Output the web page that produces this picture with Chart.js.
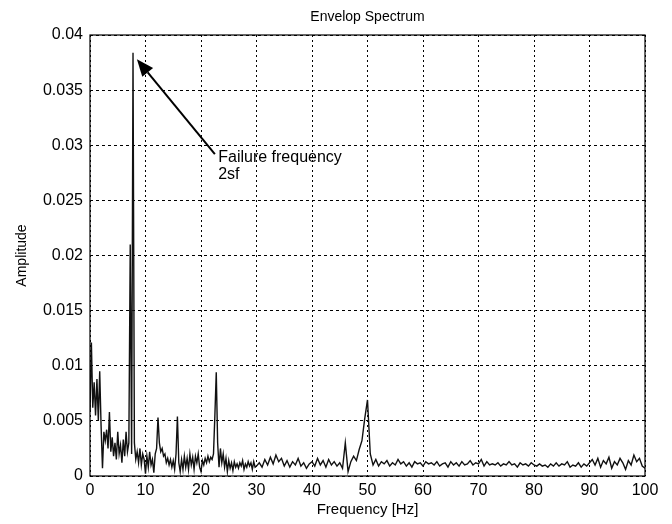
<!DOCTYPE html>
<html>
<head>
<meta charset="utf-8">
<script src="https://cdn.jsdelivr.net/npm/chart.js@4"></script>
<style>
  html, body { margin: 0; padding: 0; background: #fff; }
  #wrap { width: 672px; height: 524px; }
</style>
</head>
<body>
<div id="wrap"><canvas id="chart" width="672" height="524"></canvas></div>
<script>
// Envelope spectrum.
// 0..30 Hz sampled every 0.25 Hz, 30.5..100 Hz every 0.5 Hz.
const lowStart = 0, lowStep = 0.25;
const lowAmps = [
  0.0058, 0.0121, 0.0062, 0.0085, 0.0055, 0.0088, 0.0050, 0.0095,
  0.0045, 0.0007, 0.0040, 0.0032, 0.0042, 0.0025, 0.0058, 0.0022,
  0.0035, 0.0018, 0.0030, 0.0015, 0.0040, 0.0020, 0.0028, 0.0012,
  0.0033, 0.0018, 0.0040, 0.0022, 0.0030, 0.0210, 0.0020, 0.0384,
  0.0030, 0.0015, 0.0022, 0.0012, 0.0025, 0.0010, 0.0020, 0.0015,
  0.0002, 0.0018, 0.0008, 0.0022, 0.0010, 0.0015, 0.0003, 0.0020,
  0.0025, 0.0053, 0.0030, 0.0022, 0.0025, 0.0018, 0.0020, 0.0012,
  0.0016, 0.0010, 0.0015, 0.0008, 0.0014, 0.0006, 0.0020, 0.0054,
  0.0012, 0.0004, 0.0015, 0.0006, 0.0018, 0.0008, 0.0016, 0.0006,
  0.0020, 0.0010, 0.0017, 0.0006, 0.0018, 0.0012, 0.0020, 0.0008,
  0.0004, 0.0014, 0.0010, 0.0016, 0.0012, 0.0018, 0.0013, 0.0017,
  0.0015, 0.0020, 0.0055, 0.0094, 0.0030, 0.0008, 0.0025, 0.0012,
  0.0020, 0.0008, 0.0016, 0.0004, 0.0014, 0.0007, 0.0012, 0.0005,
  0.0013, 0.0008, 0.0011, 0.0007, 0.0012, 0.0009, 0.0014, 0.0006,
  0.0011, 0.0008, 0.0013, 0.0009, 0.0012, 0.0006, 0.0013, 0.0008,
  0.0009,
];
const highStart = 30.5, highStep = 0.5;
const highAmps = [
  0.0012, 0.0008, 0.0015, 0.0010, 0.0017, 0.0011, 0.0019, 0.0013, 0.0016, 0.0009,
  0.0014, 0.0008, 0.0013, 0.0010, 0.0016, 0.0009, 0.0012, 0.0007, 0.0011, 0.0013,
  0.0009, 0.0016, 0.0010, 0.0014, 0.0008, 0.0015, 0.0010, 0.0013, 0.0009, 0.0012,
  0.0007, 0.0030, 0.0004, 0.0013, 0.0018, 0.0014, 0.0024, 0.0032, 0.0052, 0.0069,
  0.0020, 0.0010, 0.0015, 0.0009, 0.0013, 0.0011, 0.0014, 0.0009, 0.0012, 0.0010,
  0.0015, 0.0011, 0.0013, 0.0009, 0.0012, 0.0008, 0.0013, 0.0011, 0.0012, 0.0009,
  0.0013, 0.0011, 0.0012, 0.0010, 0.0013, 0.0009, 0.0011, 0.0012, 0.0008, 0.0013,
  0.0010, 0.0012, 0.0009, 0.0013, 0.0010, 0.0011, 0.0014, 0.0010, 0.0012, 0.0011,
  0.0015, 0.0009, 0.0013, 0.0010, 0.0011, 0.0010, 0.0012, 0.0009, 0.0011, 0.0010,
  0.0013, 0.0010, 0.0011, 0.0008, 0.0012, 0.0010, 0.0011, 0.0009, 0.0012, 0.0010,
  0.0009, 0.0011, 0.0009, 0.0010, 0.0008, 0.0011, 0.0009, 0.0012, 0.0009, 0.0011,
  0.0010, 0.0013, 0.0008, 0.0010, 0.0009, 0.0012, 0.0008, 0.0011, 0.0009, 0.0012,
  0.0015, 0.0010, 0.0016, 0.0008, 0.0014, 0.0011, 0.0017, 0.0007, 0.0013, 0.0010,
  0.0016, 0.0012, 0.0006, 0.0014, 0.0010, 0.0019, 0.0013, 0.0016, 0.0009, 0.0007,
];

const xTicks = [0, 10, 20, 30, 40, 50, 60, 70, 80, 90, 100];
const yTicks = [0, 0.005, 0.01, 0.015, 0.02, 0.025, 0.03, 0.035, 0.04];

const chartTitle = "Envelop Spectrum";

// annotation, in data units
const noteText = ["Failure frequency", "2sf"];
const noteAt = { x: 23.1, y: 0.0289, lineGap: 0.00152 };
const arrowFrom = { x: 22.5, y: 0.0292 };
const arrowTo = { x: 8.45, y: 0.0378 };

const points = [
  ...lowAmps.map((a, i) => ({ x: lowStart + i * lowStep, y: a })),
  ...highAmps.map((a, i) => ({ x: highStart + i * highStep, y: a })),
];

const FONT = "'Liberation Sans', Arial, Helvetica, sans-serif";

// MATLAB-style box round the axes, title over the axes, plus the arrow and its label
const frameAndNote = {
  id: "frameAndNote",
  afterDraw(chart) {
    const { ctx, chartArea: a, scales: { x, y } } = chart;
    ctx.save();
    ctx.strokeStyle = "#000";
    ctx.lineWidth = 1.2;
    ctx.strokeRect(a.left, a.top, a.right - a.left, a.bottom - a.top);

    ctx.fillStyle = "#000";
    ctx.font = "14px " + FONT;
    ctx.textAlign = "center";
    ctx.textBaseline = "middle";
    ctx.fillText(chartTitle, (a.left + a.right) / 2, a.top - 18);

    const x1 = x.getPixelForValue(arrowFrom.x), y1 = y.getPixelForValue(arrowFrom.y);
    const x2 = x.getPixelForValue(arrowTo.x), y2 = y.getPixelForValue(arrowTo.y);
    const ang = Math.atan2(y2 - y1, x2 - x1);
    const headLen = 17, headW = 7;
    const bx = x2 - headLen * Math.cos(ang), by = y2 - headLen * Math.sin(ang);
    ctx.lineWidth = 2;
    ctx.beginPath();
    ctx.moveTo(x1, y1);
    ctx.lineTo(bx, by);
    ctx.stroke();
    ctx.beginPath();
    ctx.moveTo(x2, y2);
    ctx.lineTo(bx + headW * Math.sin(ang), by - headW * Math.cos(ang));
    ctx.lineTo(bx - headW * Math.sin(ang), by + headW * Math.cos(ang));
    ctx.closePath();
    ctx.fill();

    ctx.font = "16px " + FONT;
    ctx.textAlign = "left";
    const tx = x.getPixelForValue(noteAt.x);
    noteText.forEach((t, i) => {
      ctx.fillText(t, tx, y.getPixelForValue(noteAt.y - i * noteAt.lineGap));
    });
    ctx.restore();
  },
};

new Chart(document.getElementById("chart"), {
  type: "line",
  data: {
    datasets: [{
      data: points,
      borderColor: "#111",
      borderWidth: 1.4,
      pointRadius: 0,
      tension: 0,
      fill: false,
    }],
  },
  plugins: [frameAndNote],
  options: {
    responsive: false,
    animation: false,
    events: [],
    layout: { padding: { left: 0, right: 27, top: 35, bottom: 0 } },
    plugins: {
      legend: { display: false },
      tooltip: { enabled: false },
      title: { display: false },
    },
    scales: {
      x: {
        type: "linear",
        min: 0,
        max: 100,
        afterBuildTicks: (s) => { s.ticks = xTicks.map((v) => ({ value: v })); },
        afterFit: (s) => { s.height = 48; },
        grid: { color: "#000", lineWidth: 1, drawTicks: false },
        border: { display: false, dash: [2, 3] },
        ticks: { color: "#000", font: { family: FONT, size: 16 }, padding: 5, maxRotation: 0 },
        title: {
          display: true,
          text: "Frequency [Hz]",
          color: "#000",
          font: { family: FONT, size: 15 },
          padding: { top: 0, bottom: 5 },
        },
      },
      y: {
        type: "linear",
        min: 0,
        max: 0.04,
        afterBuildTicks: (s) => { s.ticks = yTicks.map((v) => ({ value: v })); },
        afterFit: (s) => { s.width = 90; },
        grid: { color: "#000", lineWidth: 1, drawTicks: false },
        border: { display: false, dash: [3, 3] },
        ticks: {
          color: "#000",
          font: { family: FONT, size: 16 },
          padding: 7,
          callback: (v) => String(+v.toFixed(3)),
        },
        title: {
          display: true,
          text: "Amplitude",
          color: "#000",
          font: { family: FONT, size: 14 },
          padding: { top: 14, bottom: 0 },
        },
      },
    },
  },
});
</script>
</body>
</html>
